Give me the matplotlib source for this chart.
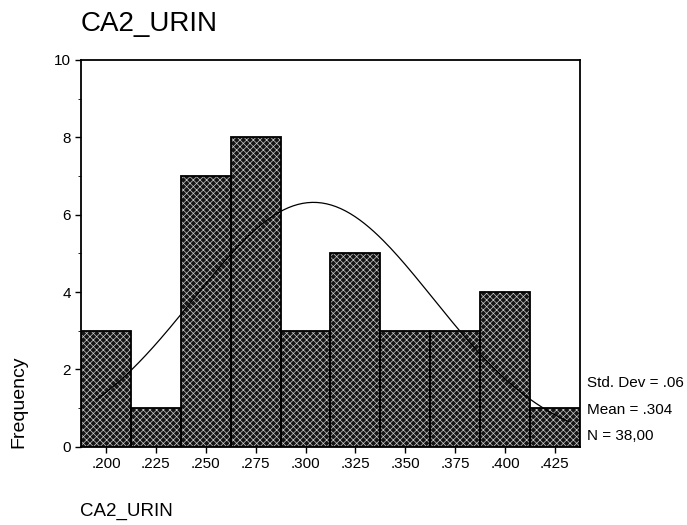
import numpy as np
import matplotlib.pyplot as plt

# histogram of CA2_URIN, SPSS style
bin_centers = [0.200, 0.225, 0.250, 0.275, 0.300, 0.325, 0.350, 0.375, 0.400, 0.425]
counts = [3, 1, 7, 8, 3, 5, 3, 3, 4, 1]
tick_labels = ['.200', '.225', '.250', '.275', '.300', '.325', '.350', '.375', '.400', '.425']
bin_width = 0.025
mean = 0.304
std_dev = 0.06
n = 38
stats = ['Std. Dev = .06', 'Mean = .304', 'N = 38,00']

plt.rcParams['font.family'] = ['Liberation Sans', 'DejaVu Sans']
plt.rcParams['hatch.linewidth'] = 0.5

fig = plt.figure(figsize=(6.87, 5.25), dpi=100)
ax = fig.add_axes([0.118, 0.149, 0.726, 0.737])

# dithered fill, then black outlines on top
ax.bar(bin_centers, counts, width=bin_width, color='#151515', edgecolor='#c8c8c8',
       hatch='xxxxx', linewidth=0)
ax.bar(bin_centers, counts, width=bin_width, fill=False, edgecolor='black', linewidth=1.3)

# normal curve
xs = np.linspace(0.195, 0.432, 200)
ys = n * bin_width * np.exp(-0.5 * ((xs - mean) / std_dev) ** 2) / (std_dev * np.sqrt(2 * np.pi))
ax.plot(xs, ys, color='black', linewidth=0.9)

ax.set_xlim(0.1875, 0.4375)
ax.set_ylim(0, 10)
ax.set_xticks(bin_centers)
ax.set_xticklabels(tick_labels)
ax.set_yticks([0, 2, 4, 6, 8, 10])
ax.set_yticks(np.arange(0, 10, 1), minor=True)
ax.tick_params(axis='both', labelsize=11, length=4, width=1, direction='out')
ax.tick_params(axis='y', which='minor', length=2)
for s in ax.spines.values():
    s.set_linewidth(1.3)

fig.text(0.117, 0.955, 'CA2_URIN', fontsize=20, va='center', ha='left')
fig.text(0.117, 0.025, 'CA2_URIN', fontsize=13.5, va='center', ha='left')
fig.text(0.027, 0.235, 'Frequency', fontsize=14, rotation=90, va='center', ha='center')

for i, t in enumerate(stats):
    fig.text(0.854, 0.27 - i * 0.05, t, fontsize=11, va='center', ha='left')

fig.savefig('out.png', dpi=100)
